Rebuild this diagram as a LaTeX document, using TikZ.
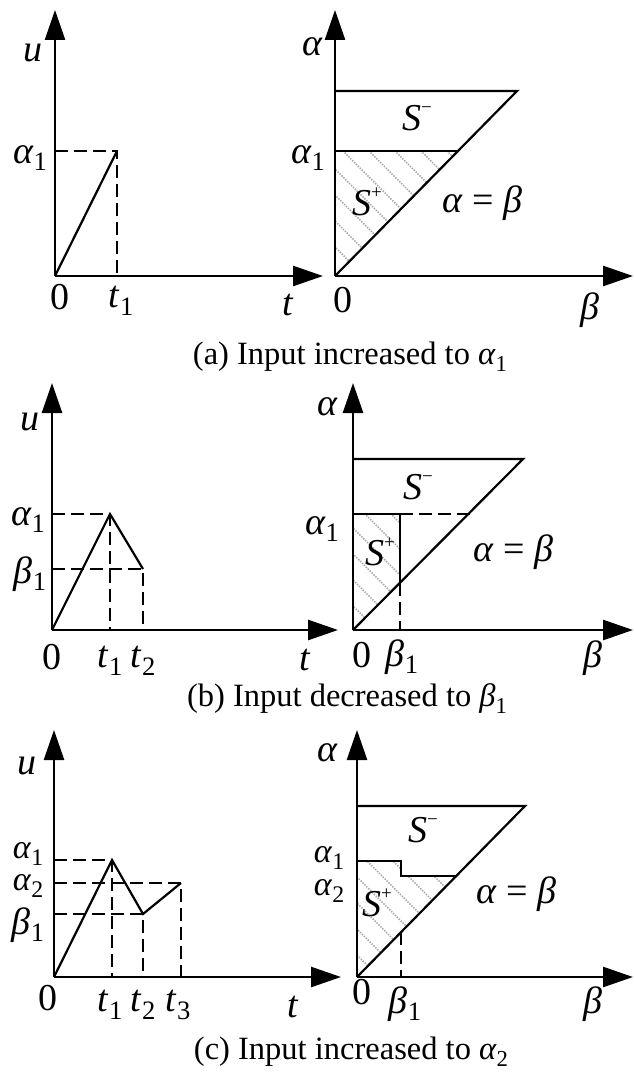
\documentclass[tikz,border=0pt]{standalone}
\usepackage{fontspec}
\setmainfont{Liberation Serif}
\usetikzlibrary{arrows.meta}
\tikzset{
  axis/.style={line width=2.6pt,-{Triangle[length=30pt,width=20pt]}},
  curve/.style={line width=2.2pt},
  guide/.style={line width=2pt,dash pattern=on 13pt off 6pt},
  hatchline/.style={gray!65,line width=1.6pt,dash pattern=on 1.5pt off 1.2pt},
  lbl/.style={inner sep=0pt,font=\fontsize{38}{44}\selectfont},
  tight/.style={lbl,font=\fontsize{34}{40}\selectfont}
}
\newcommand{\lo}[1]{\raisebox{-0.2em}{\scalebox{0.7}{#1}}}
\newcommand{\hi}[1]{\raisebox{0.45em}{\scalebox{0.5}{#1}}}
\newcommand{\ia}[1]{\textit{α}\lo{#1}}
\newcommand{\ib}[1]{\textit{β}\lo{#1}}
\newcommand{\itt}[1]{\textit{t}\lo{#1}}
\begin{document}
\begin{tikzpicture}[x=1pt,y=-1pt,font=\fontsize{32.5}{39}\selectfont]
\useasboundingbox (0,0) rectangle (633,1073);
% (a) left
\coordinate (Oa) at (55,276);
\coordinate (Ua) at (55,10);
\coordinate (Ta) at (323,276);
\coordinate (Aa) at (55,151);
\coordinate (Pa) at (117,151);
\coordinate (Fa) at (117,276);
\draw[axis] (Oa)--(Ua);
\draw[axis] (Oa)--(Ta);
\draw[curve] (Oa)--(Pa);
\draw[guide] (Aa)--(Pa)--(Fa);
\node[lbl] (ua) at (33,53) {\textit{u}};
\node[lbl] (a1a) at (30,158) {\ia{1}};
\node[lbl] (za) at (60,297) {0};
\node[lbl] (t1a) at (121,301) {\itt{1}};
\node[lbl] (ta) at (288,305) {\textit{t}};
% (a) right
\coordinate (Qa) at (335,276);
\coordinate (Va) at (335,10);
\coordinate (Ba) at (633,276);
\coordinate (Ha) at (335,91);
\coordinate (Ka) at (517,91);
\coordinate (Ma) at (335,151);
\coordinate (Da) at (457,151);
\begin{scope}
\clip (Ma)--(Da)--(Qa)--cycle;
\foreach \c in {62,88,...,322} \draw[hatchline] (\c+80,80)--(\c+300,300);
\end{scope}
\draw[axis] (Qa)--(Va);
\draw[axis] (Qa)--(Ba);
\draw[curve] (Ha)--(Ka)--(Qa);
\draw[curve] (Ma)--(Da);
\node[lbl] (ala) at (313,47) {\textit{α}};
\node[lbl] (a1ra) at (308,158) {\ia{1}};
\node[lbl] (zra) at (343,300) {0};
\node[lbl] (bea) at (590,310) {\textit{β}};
\node[lbl] (eqa) at (482,203) {\textit{α} = \textit{β}};
\node[lbl] (sma) at (417,118) {\textit{S}\hi{−}};
\node[lbl] (spa) at (367,202) {\textit{S}\hi{+}};
\node (capa) at (350,357) {(a) Input increased to \ia{1}};
% (b) left
\coordinate (Ob) at (52,630);
\coordinate (Ub) at (52,383);
\coordinate (Tb) at (338,630);
\coordinate (Ab) at (52,514);
\coordinate (Gb) at (52,569);
\coordinate (Pb) at (110,514);
\coordinate (Rb) at (143,569);
\coordinate (F1b) at (110,630);
\coordinate (F2b) at (143,630);
\draw[axis] (Ob)--(Ub);
\draw[axis] (Ob)--(Tb);
\draw[curve] (Ob)--(Pb)--(Rb);
\draw[guide] (Ab)--(Pb)--(F1b);
\draw[guide] (Gb)--(Rb)--(F2b);
\node[lbl] (ub) at (30,422) {\textit{u}};
\node[lbl] (a1b) at (28,520) {\ia{1}};
\node[lbl] (b1b) at (30,574) {\ib{1}};
\node[lbl] (zb) at (52,657) {0};
\node[lbl] (t1b) at (110,661) {\itt{1}};
\node[lbl] (t2b) at (143,661) {\itt{2}};
\node[lbl] (tb) at (305,660) {\textit{t}};
% (b) right
\coordinate (Qb) at (353,630);
\coordinate (Vb) at (353,383);
\coordinate (Bb) at (633,630);
\coordinate (Hb) at (353,459);
\coordinate (Kb) at (523,459);
\coordinate (Mb) at (353,514);
\coordinate (Nb) at (400,514);
\coordinate (Db) at (470,514);
\coordinate (Cb) at (400,583);
\coordinate (Eb) at (400,630);
\begin{scope}
\clip (Qb)--(Mb)--(Nb)--(Cb)--cycle;
\foreach \c in {-279,-253,...,-97} \draw[hatchline] (\c+500,500)--(\c+650,650);
\end{scope}
\draw[axis] (Qb)--(Vb);
\draw[axis] (Qb)--(Bb);
\draw[curve] (Hb)--(Kb)--(Qb);
\draw[curve] (Mb)--(Nb)--(Cb);
\draw[guide] (Nb)--(Db);
\draw[guide] (Cb)--(Eb);
\node[lbl] (alb) at (328,407) {\textit{α}};
\node[lbl] (a1rb) at (322,529) {\ia{1}};
\node[lbl] (zrb) at (362,655) {0};
\node[lbl] (b1rb) at (402,657) {\ib{1}};
\node[lbl] (beb) at (593,658) {\textit{β}};
\node[lbl] (eqb) at (513,552) {\textit{α} = \textit{β}};
\node[lbl] (smb) at (418,487) {\textit{S}\hi{−}};
\node[lbl] (spb) at (380,552) {\textit{S}\hi{+}};
\node (capb) at (347,699) {(b) Input decreased to \ib{1}};
% (c) left
\coordinate (Oc) at (54,977);
\coordinate (Uc) at (54,730);
\coordinate (Tc) at (341,977);
\coordinate (Ac) at (54,860);
\coordinate (Lc) at (54,883);
\coordinate (Gc) at (54,914);
\coordinate (Pc) at (112,860);
\coordinate (Rc) at (143,914);
\coordinate (Sc) at (181,883);
\coordinate (F1c) at (112,977);
\coordinate (F2c) at (143,977);
\coordinate (F3c) at (181,977);
\draw[axis] (Oc)--(Uc);
\draw[axis] (Oc)--(Tc);
\draw[curve] (Oc)--(Pc)--(Rc)--(Sc);
\draw[guide] (Ac)--(Pc)--(F1c);
\draw[guide] (Lc)--(Sc)--(F3c);
\draw[guide] (Gc)--(Rc)--(F2c);
\node[lbl] (uc) at (27,766) {\textit{u}};
\node[tight] (a1c) at (28,854) {\ia{1}};
\node[tight] (a2c) at (28,886) {\ia{2}};
\node[lbl] (b1c) at (28,925) {\ib{1}};
\node[lbl] (zc) at (48,998) {0};
\node[lbl] (t1c) at (110,1005) {\itt{1}};
\node[lbl] (t2c) at (143,1005) {\itt{2}};
\node[lbl] (t3c) at (178,1005) {\itt{3}};
\node[lbl] (tc) at (293,1007) {\textit{t}};
% (c) right
\coordinate (Qc) at (357,977);
\coordinate (Vc) at (357,730);
\coordinate (Bc) at (633,977);
\coordinate (Hc) at (357,806);
\coordinate (Kc) at (525,806);
\coordinate (Mc) at (357,861);
\coordinate (Nc) at (401,861);
\coordinate (Wc) at (401,876);
\coordinate (Dc) at (456,876);
\coordinate (Cc) at (401,932);
\coordinate (Ec) at (401,977);
\begin{scope}
\clip (Qc)--(Mc)--(Nc)--(Wc)--(Dc)--cycle;
\foreach \c in {-624,-598,...,-390} \draw[hatchline] (\c+850,850)--(\c+1000,1000);
\end{scope}
\draw[axis] (Qc)--(Vc);
\draw[axis] (Qc)--(Bc);
\draw[curve] (Hc)--(Kc)--(Qc);
\draw[curve] (Mc)--(Nc)--(Wc)--(Dc);
\draw[guide] (Cc)--(Ec);
\node[lbl] (alc) at (328,753) {\textit{α}};
\node[tight] (a1rc) at (329,858) {\ia{1}};
\node[tight] (a2rc) at (329,891) {\ia{2}};
\node[lbl] (zrc) at (362,992) {0};
\node[lbl] (b1rc) at (405,1004) {\ib{1}};
\node[lbl] (bec) at (593,1004) {\textit{β}};
\node[lbl] (eqc) at (516,894) {\textit{α} = \textit{β}};
\node[lbl] (smc) at (423,830) {\textit{S}\hi{−}};
\node[lbl] (spc) at (377,903) {\textit{S}\hi{+}};
\node (capc) at (351,1052) {(c) Input increased to \ia{2}};
\end{tikzpicture}
\end{document}
